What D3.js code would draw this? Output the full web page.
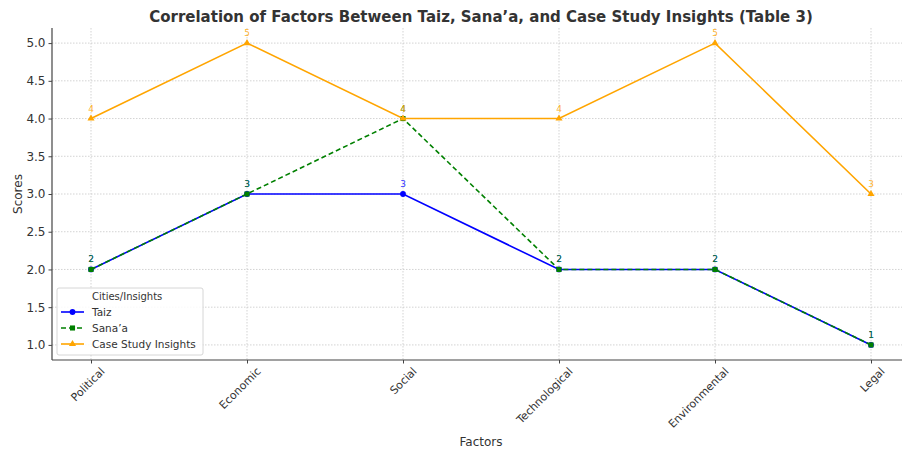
<!DOCTYPE html>
<html><head><meta charset="utf-8">
<script src="https://cdn.jsdelivr.net/npm/d3@7"></script>
<style>body{margin:0;background:#fff;} text{font-family:"DejaVu Sans",sans-serif;}</style>
</head><body><svg id="c" width="902" height="450"></svg>
<script>
const categories = ["Political","Economic","Social","Technological","Environmental","Legal"];
const taiz = [2,3,3,2,2,1];
const sanaa = [2,3,4,2,2,1];
const caseStudy = [4,5,4,4,5,3];
const seriesNames = ["Taiz","Sana\u2019a","Case Study Insights"];
const yTicks = [1.0,1.5,2.0,2.5,3.0,3.5,4.0,4.5,5.0];

const svg = d3.select("#c");
const L=52, R=910, T=28, B=360;
const x = d3.scaleLinear().domain([-0.25, categories.length-1+0.25]).range([L,R]);
const y = d3.scaleLinear().domain([0.8,5.2]).range([B,T]);

// grid
const g = svg.append("g");
g.selectAll(".gy").data(yTicks).join("line")
 .attr("x1",L).attr("x2",R).attr("y1",d=>y(d)).attr("y2",d=>y(d))
 .attr("stroke","#c8c8c8").attr("stroke-width",0.8).attr("stroke-dasharray","1.5,1.5");
g.selectAll(".gx").data(categories).join("line")
 .attr("x1",(d,i)=>x(i)).attr("x2",(d,i)=>x(i)).attr("y1",T).attr("y2",B)
 .attr("stroke","#c8c8c8").attr("stroke-width",0.8).attr("stroke-dasharray","1.5,1.5");

// axes
const yAxis = d3.axisLeft(y).tickValues(yTicks).tickFormat(d3.format(".1f")).tickSize(3.5);
const ya = svg.append("g").attr("transform",`translate(${L},0)`).call(yAxis);
ya.select(".domain").attr("stroke","#444").attr("stroke-width",1.2).attr("d",`M0,${T}V${B}`);
ya.selectAll(".tick line").attr("stroke","#444");
ya.selectAll(".tick text").attr("font-size",12).attr("fill","#333").attr("font-family","DejaVu Sans");

const xAxis = d3.axisBottom(x).tickValues(d3.range(categories.length)).tickFormat(i=>categories[i]).tickSize(3.5);
const xa = svg.append("g").attr("transform",`translate(0,${B})`).call(xAxis);
xa.select(".domain").attr("stroke","#444").attr("stroke-width",1.2).attr("d",`M${L},0H${R}`);
xa.selectAll(".tick line").attr("stroke","#444");
xa.selectAll(".tick text").attr("font-size",11).attr("fill","#333").attr("font-family","DejaVu Sans")
 .attr("text-anchor","end").attr("dy",null).attr("y",0)
 .attr("transform","translate(14,12) rotate(-45)");

// titles
svg.append("text").attr("x",481).attr("y",22).attr("text-anchor","middle")
 .attr("font-size",15).attr("font-weight","bold").attr("fill","#333")
 .text("Correlation of Factors Between Taiz, Sana\u2019a, and Case Study Insights (Table 3)");
svg.append("text").attr("x",481).attr("y",446).attr("text-anchor","middle").attr("font-size",12).attr("fill","#333").text("Factors");
svg.append("text").attr("transform","translate(22,194) rotate(-90)").attr("text-anchor","middle").attr("font-size",12).attr("fill","#333").text("Scores");

const series = [
 {name:seriesNames[0], vals:taiz, color:"#0000ff", dash:null, marker:"circle"},
 {name:seriesNames[1], vals:sanaa, color:"#008000", dash:"5,3", marker:"square"},
 {name:seriesNames[2], vals:caseStudy, color:"#ffa500", dash:null, marker:"triangle"}
];
const sym = {circle:d3.symbolCircle, square:d3.symbolSquare, triangle:d3.symbolTriangle};
const line = d3.line().x((d,i)=>x(i)).y(d=>y(d));
series.forEach(s=>{
  svg.append("path").attr("d",line(s.vals)).attr("fill","none").attr("stroke",s.color)
   .attr("stroke-width",1.6).attr("stroke-dasharray",s.dash);
  svg.selectAll(null).data(s.vals).join("path")
   .attr("d",d3.symbol().type(sym[s.marker]).size(s.marker==="triangle"?22:26))
   .attr("transform",(d,i)=>`translate(${x(i)},${y(d)})`).attr("fill",s.color);
});
series.forEach(s=>{
  svg.selectAll(null).data(s.vals).join("text")
   .attr("x",(d,i)=>x(i)).attr("y",d=>y(d)-7).attr("text-anchor","middle")
   .attr("font-size",9).attr("fill",s.color).attr("fill-opacity",0.85).text(d=>d);
});

// legend
const lg = svg.append("g").attr("transform","translate(57,288)");
lg.append("rect").attr("width",146).attr("height",67).attr("rx",2).attr("fill","#fff").attr("fill-opacity",0.85)
 .attr("stroke","#ccc").attr("stroke-width",0.8);
lg.append("text").attr("x",35).attr("y",12).attr("font-size",10).attr("fill","#333").text("Cities/Insights");
series.forEach((s,i)=>{
  const yy = 24+i*16;
  lg.append("line").attr("x1",4).attr("x2",27).attr("y1",yy).attr("y2",yy).attr("stroke",s.color)
   .attr("stroke-width",1.6).attr("stroke-dasharray",s.dash);
  lg.append("path").attr("d",d3.symbol().type(sym[s.marker]).size(s.marker==="triangle"?22:26))
   .attr("transform",`translate(15.5,${yy})`).attr("fill",s.color);
  lg.append("text").attr("x",35).attr("y",yy+3.5).attr("font-size",10.5).attr("fill","#333").text(s.name);
});
</script></body></html>
